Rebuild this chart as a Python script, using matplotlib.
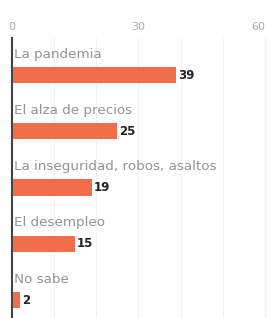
import matplotlib.pyplot as plt

categorias = ['La pandemia', 'El alza de precios', 'La inseguridad, robos, asaltos',
              'El desempleo', 'No sabe']
valores = [39, 25, 19, 15, 2]
ticks = [0, 30, 60]

fig = plt.figure(figsize=(2.7, 3.18), dpi=100)
ax = fig.add_axes([12 / 270, 0, 258 / 270, 280 / 318])

pos = list(range(len(categorias)))
ax.barh(pos, valores, height=0.29, color='#f26d4c', zorder=3)

for p, cat, v in zip(pos, categorias, valores):
    ax.text(0.5, p - 0.37, cat, fontsize=9.7, color='#939393', va='center', ha='left')
    ax.text(v + 0.4, p, str(v), fontsize=8.5, color='#222222', fontweight='bold',
            va='center', ha='left')

ax.set_xlim(0, 61.2)
ax.set_ylim(4.32, -0.66)
ax.xaxis.tick_top()
ax.set_xticks(ticks)
ax.set_xticklabels([str(t) for t in ticks], fontsize=8, color='#aaaaaa')
ax.get_xticklabels()[-1].set_ha('right')
ax.set_xticks(range(0, 61, 10), minor=True)
ax.tick_params(axis='x', which='both', length=0, pad=4)
ax.set_yticks([])
ax.grid(axis='x', which='both', color='#f3f3f3', linewidth=0.8, zorder=0)
for s in ['top', 'right', 'bottom']:
    ax.spines[s].set_visible(False)
ax.spines['left'].set_color('#444444')
ax.spines['left'].set_linewidth(1.5)
ax.spines['left'].set_zorder(4)

fig.savefig('out.png', dpi=100)
